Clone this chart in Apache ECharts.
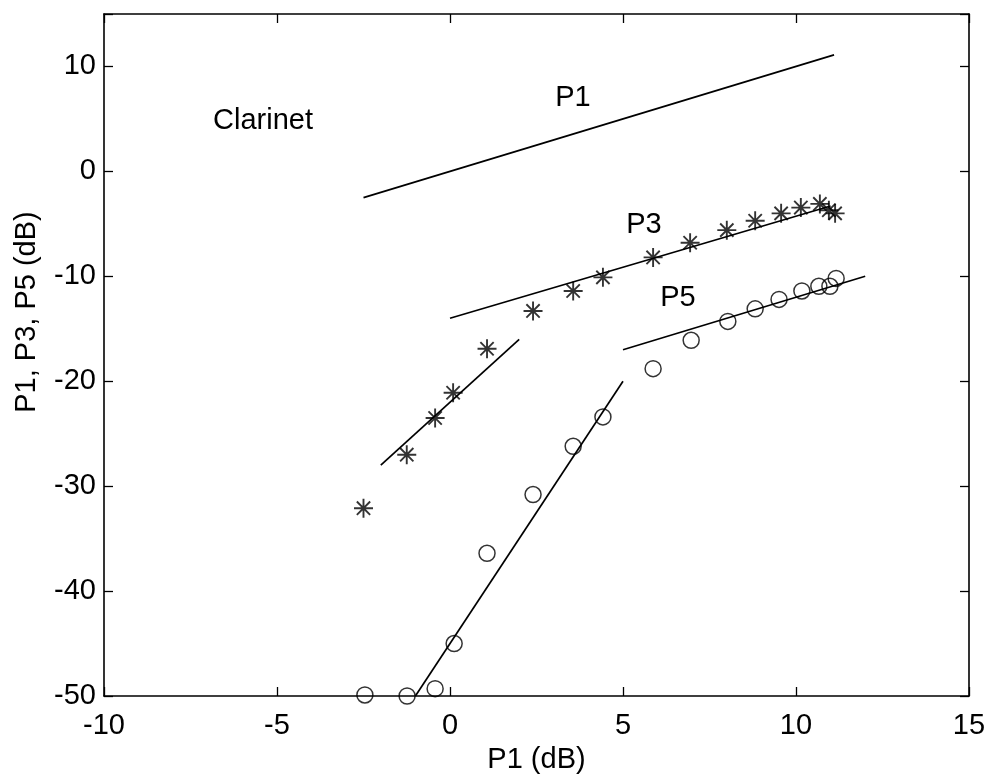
<!DOCTYPE html>
<html>
<head>
<meta charset="utf-8">
<script src="https://cdn.jsdelivr.net/npm/echarts@6/dist/echarts.min.js"></script>
<style>html,body{margin:0;padding:0;background:#fff;}#c{width:992px;height:781px;}</style>
</head>
<body>
<div id="c"></div>
<script>
// Axis settings
var xMin = -10, xMax = 15, xStep = 5;
var yMin = -50, yMax = 15, yStep = 10;
var xTicks = [-10, -5, 0, 5, 10, 15];
var yTicks = [-50, -40, -30, -20, -10, 0, 10];

// P3 measurements (asterisks)
var p3X = [-2.5, -1.25, -0.43, 0.09, 1.07, 2.4, 3.56, 4.42, 5.87, 6.94, 8.0, 8.82, 9.57, 10.14, 10.69, 10.95, 11.13];
var p3Y = [-32.1, -27.0, -23.5, -21.1, -16.9, -13.3, -11.4, -10.1, -8.2, -6.8, -5.6, -4.7, -4.0, -3.45, -3.1, -3.7, -4.0];

// P5 measurements (circles)
var p5X = [-2.46, -1.24, -0.43, 0.12, 1.07, 2.4, 3.56, 4.42, 5.87, 6.97, 8.03, 8.82, 9.51, 10.17, 10.66, 10.98, 11.16];
var p5Y = [-49.9, -50.0, -49.3, -45.0, -36.4, -30.8, -26.2, -23.4, -18.8, -16.1, -14.3, -13.1, -12.2, -11.4, -10.95, -10.95, -10.2];

// Fitted straight lines: [x0, y0, x1, y1]
var lineP1 = [-2.5, -2.5, 11.1, 11.1];
var lineP3low = [-2.0, -28.0, 2.0, -16.0];
var lineP3high = [0.0, -14.0, 11.0, -3.3];
var lineP5low = [-1.0, -50.0, 5.0, -20.0];
var lineP5high = [5.0, -17.0, 12.0, -10.0];

// Text labels
var xTitle = 'P1 (dB)';
var yTitle = 'P1, P3, P5 (dB)';
var annotations = ['Clarinet', 'P1', 'P3', 'P5'];

var FONT = 'Liberation Sans, Arial, Helvetica, sans-serif';
var FS = 29;

function pairs(xs, ys) { return xs.map(function (x, i) { return [x, ys[i]]; }); }
function seg(a) { return [[a[0], a[1]], [a[2], a[3]]]; }
function lineSeries(a) {
  return {
    type: 'line', data: seg(a), symbol: 'none', silent: true,
    lineStyle: { color: '#000', width: 1.7 }, xAxisIndex: 0, yAxisIndex: 0,
    emphasis: { disabled: true }
  };
}

var chart = echarts.init(document.getElementById('c'));
var axisCommon = {
  axisLine: { show: true, onZero: false, lineStyle: { color: '#000', width: 1.6 } },
  axisTick: { show: true, inside: true, length: 9, lineStyle: { color: '#000', width: 1.3 } },
  splitLine: { show: false }
};

var option = {
  animation: false,
  backgroundColor: '#fff',
  grid: { left: 104, right: 23, top: 14, bottom: 85, containLabel: false },
  xAxis: [
    Object.assign({
      type: 'value', position: 'bottom', min: xMin, max: xMax, interval: xStep,
      name: xTitle, nameLocation: 'middle', nameGap: 49,
      nameTextStyle: { fontFamily: FONT, fontSize: FS, color: '#000' },
      axisLabel: { show: true, margin: 15, fontFamily: FONT, fontSize: FS, color: '#000',
        formatter: function (v) { return xTicks.indexOf(v) >= 0 ? String(v) : ''; } }
    }, axisCommon),
    Object.assign({
      type: 'value', position: 'top', min: xMin, max: xMax, interval: xStep,
      axisLabel: { show: false }
    }, axisCommon)
  ],
  yAxis: [
    Object.assign({
      type: 'value', position: 'left', min: yMin, max: yMax, interval: yStep,
      axisLabel: { show: true, margin: 8, fontFamily: FONT, fontSize: FS, color: '#000',
        formatter: function (v) { return yTicks.indexOf(v) >= 0 ? String(v) : ''; } }
    }, axisCommon),
    Object.assign({
      type: 'value', position: 'right', min: yMin, max: yMax, interval: yStep,
      axisLabel: { show: false }
    }, axisCommon)
  ],
  series: [
    lineSeries(lineP1),
    lineSeries(lineP3low),
    lineSeries(lineP3high),
    lineSeries(lineP5low),
    lineSeries(lineP5high),
    {
      type: 'scatter', data: pairs(p3X, p3Y), clip: false, silent: true,
      symbol: 'path://M10,0L10,20M0,10L20,10M3,3L17,17M3,17L17,3',
      symbolSize: 19,
      itemStyle: { color: '#000', borderColor: '#000', borderWidth: 1.9 },
      emphasis: { disabled: true }
    },
    {
      type: 'scatter', data: pairs(p5X, p5Y), clip: false, silent: true,
      symbol: 'circle', symbolSize: 16,
      itemStyle: { color: 'rgba(0,0,0,0)', borderColor: '#000', borderWidth: 1.5 },
      emphasis: { disabled: true }
    }
  ],
  graphic: [
    { type: 'text', x: 27, y: 312, rotation: Math.PI / 2,
      style: { text: yTitle, font: FS + 'px ' + FONT, fill: '#000', align: 'center', verticalAlign: 'middle' } },
    { type: 'text', x: 263, y: 121,
      style: { text: annotations[0], font: FS + 'px ' + FONT, fill: '#000', align: 'center', verticalAlign: 'middle' } },
    { type: 'text', x: 573, y: 98,
      style: { text: annotations[1], font: FS + 'px ' + FONT, fill: '#000', align: 'center', verticalAlign: 'middle' } },
    { type: 'text', x: 644, y: 225,
      style: { text: annotations[2], font: FS + 'px ' + FONT, fill: '#000', align: 'center', verticalAlign: 'middle' } },
    { type: 'text', x: 678, y: 298,
      style: { text: annotations[3], font: FS + 'px ' + FONT, fill: '#000', align: 'center', verticalAlign: 'middle' } }
  ]
};
chart.setOption(option);
</script>
</body>
</html>
